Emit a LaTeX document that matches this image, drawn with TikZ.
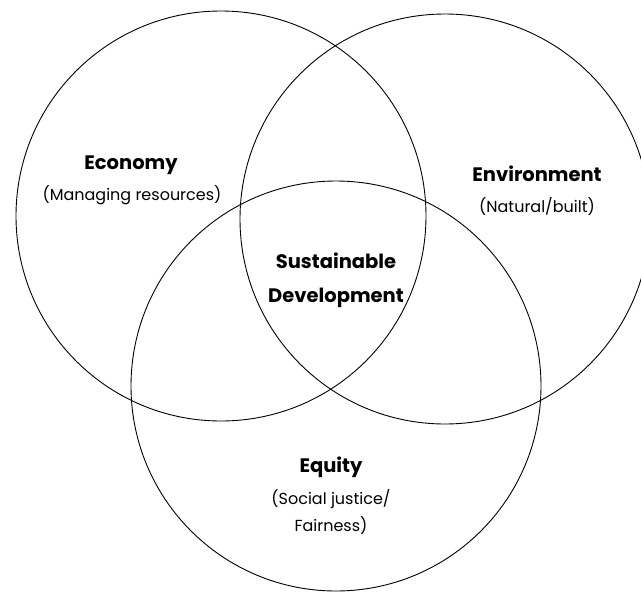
\documentclass[tikz,border=0pt]{standalone}
\usepackage{fontspec}
\setmainfont{Poppins}
\begin{document}
\begin{tikzpicture}[x=1pt,y=-1pt,
	ring/.style={line width=0.9pt},
	head/.style={font=\bfseries\fontsize{19.5}{34}\selectfont, align=center, inner sep=0pt},
	sub/.style={font=\fontsize{16}{27}\selectfont, align=center, inner sep=0pt}]
	\useasboundingbox (0,0) rectangle (641,592);
	\clip (0,0) rectangle (641,592);
	% circle centres
	\coordinate (econ) at (221,216);
	\coordinate (env) at (445,219);
	\coordinate (equ) at (336,386);
	\draw [ring] (econ) circle (205);
	\draw [ring] (env) circle (205);
	\draw [ring] (equ) circle (205);
	% labels
	\node [head] (econlabel) at (131,165) {Economy};
	\node [sub] (econsub) at (132,195) {(Managing resources)};
	\node [head] (envlabel) at (537,174) {Environment};
	\node [sub] (envsub) at (537,206) {(Natural/built)};
	\node [head] (sdlabel) at (336,280) {Sustainable\\Development};
	\node [head] (equlabel) at (331,467) {Equity};
	\node [sub] (equsub) at (331,512) {(Social justice/\\Fairness)};
\end{tikzpicture}
\end{document}
